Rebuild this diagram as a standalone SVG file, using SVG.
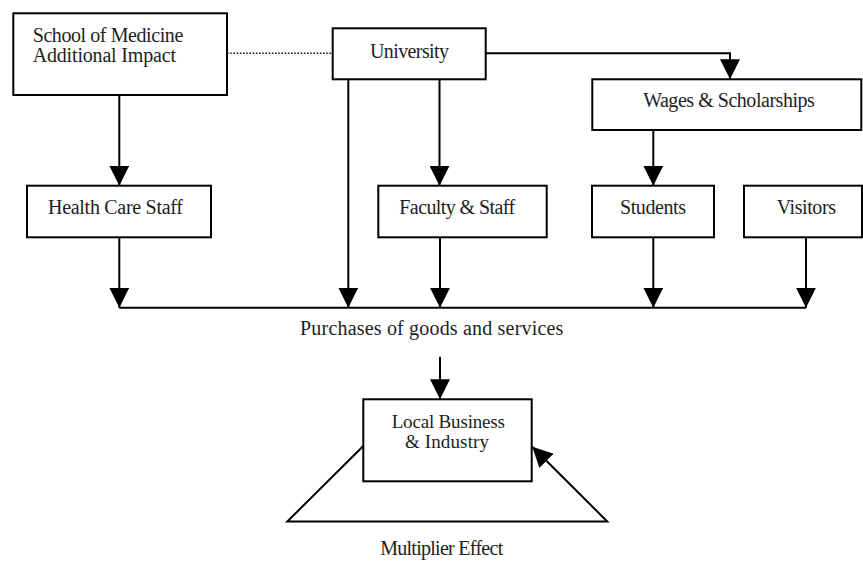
<svg xmlns="http://www.w3.org/2000/svg" width="863" height="569" viewBox="0 0 863 569" font-family="'Liberation Serif', 'Times New Roman', serif" font-size="20">
<defs>
<style>
.box{fill:#fff;stroke:#000;stroke-width:2}
.ln{fill:none;stroke:#000;stroke-width:2}
.arr{marker-end:url(#ah)}
.dot{fill:none;stroke:#222;stroke-width:1.6;stroke-dasharray:1.6 1.6}
text{font-family:'Liberation Serif','Times New Roman',serif;font-size:20px;fill:#1e1e1e}
.c{text-anchor:middle}
.s{font-size:19px}
</style>
<marker id="ah" markerUnits="userSpaceOnUse" markerWidth="20" markerHeight="20" refX="20" refY="10" orient="auto" viewBox="0 0 20 20">
<path d="M0,0 L20,10 L0,20 z" fill="#000"/>
</marker>
</defs>
<rect width="863" height="569" fill="#fff"/>
<g id="connectors">
<line class="dot" x1="227" y1="53.3" x2="332.7" y2="53.3"/>
<path class="ln arr" d="M119.3,95 V185.7"/>
<path class="ln arr" d="M485.7,53.3 H730 V79.3"/>
<path class="ln arr" d="M348.3,79.3 V307.7"/>
<path class="ln arr" d="M439.5,79.3 V185.7"/>
<path class="ln arr" d="M653.3,130 V185.7"/>
<path class="ln arr" d="M119.3,237.3 V307.7"/>
<path class="ln arr" d="M440,237.3 V307.7"/>
<path class="ln arr" d="M653.3,237.3 V307.7"/>
<path class="ln arr" d="M806,237.3 V307.7"/>
<path class="ln" d="M119.3,307.7 H806"/>
<path class="ln arr" d="M440,356.7 V399.3"/>
<path class="ln arr" d="M363.3,446 L287.3,521.5 H607.3 L532.3,446.7"/>
</g>
<g id="school">
<rect class="box" x="13.3" y="13.3" width="213.7" height="81.7"/>
<text x="32.7" y="42.3" textLength="150.6">School of Medicine</text>
<text x="32.7" y="62.3" textLength="143.3">Additional Impact</text>
</g>
<g id="university">
<rect class="box" x="332.7" y="28.3" width="153" height="51"/>
<text class="c" x="409.5" y="58.3" textLength="79">University</text>
</g>
<g id="wages">
<rect class="box" x="592.3" y="79.3" width="269" height="50.7"/>
<text class="c" x="729" y="107.3" textLength="171.7">Wages &amp; Scholarships</text>
</g>
<g id="health">
<rect class="box" x="27" y="185.7" width="184" height="51.6"/>
<text class="c" x="115.5" y="214" textLength="135">Health Care Staff</text>
</g>
<g id="faculty">
<rect class="box" x="378.3" y="185.7" width="168.4" height="51.6"/>
<text class="c" x="457.2" y="214" textLength="115.7">Faculty &amp; Staff</text>
</g>
<g id="students">
<rect class="box" x="592" y="185.7" width="122" height="51.6"/>
<text class="c" x="653" y="214.3" textLength="66">Students</text>
</g>
<g id="visitors">
<rect class="box" x="744" y="185.7" width="118" height="51.6"/>
<text class="c" x="806.3" y="214.3" textLength="59.3">Visitors</text>
</g>
<g id="purchases">
<text class="c" x="431.7" y="335" textLength="263.3">Purchases of goods and services</text>
</g>
<g id="local">
<rect class="box" x="363.3" y="399.3" width="168.4" height="82"/>
<text class="c s" x="448.3" y="428" textLength="113.3">Local Business</text>
<text class="c s" x="447" y="448" textLength="84">&amp; Industry</text>
</g>
<g id="multiplier">
<text class="c" x="441.7" y="555" textLength="123">Multiplier Effect</text>
</g>
</svg>
